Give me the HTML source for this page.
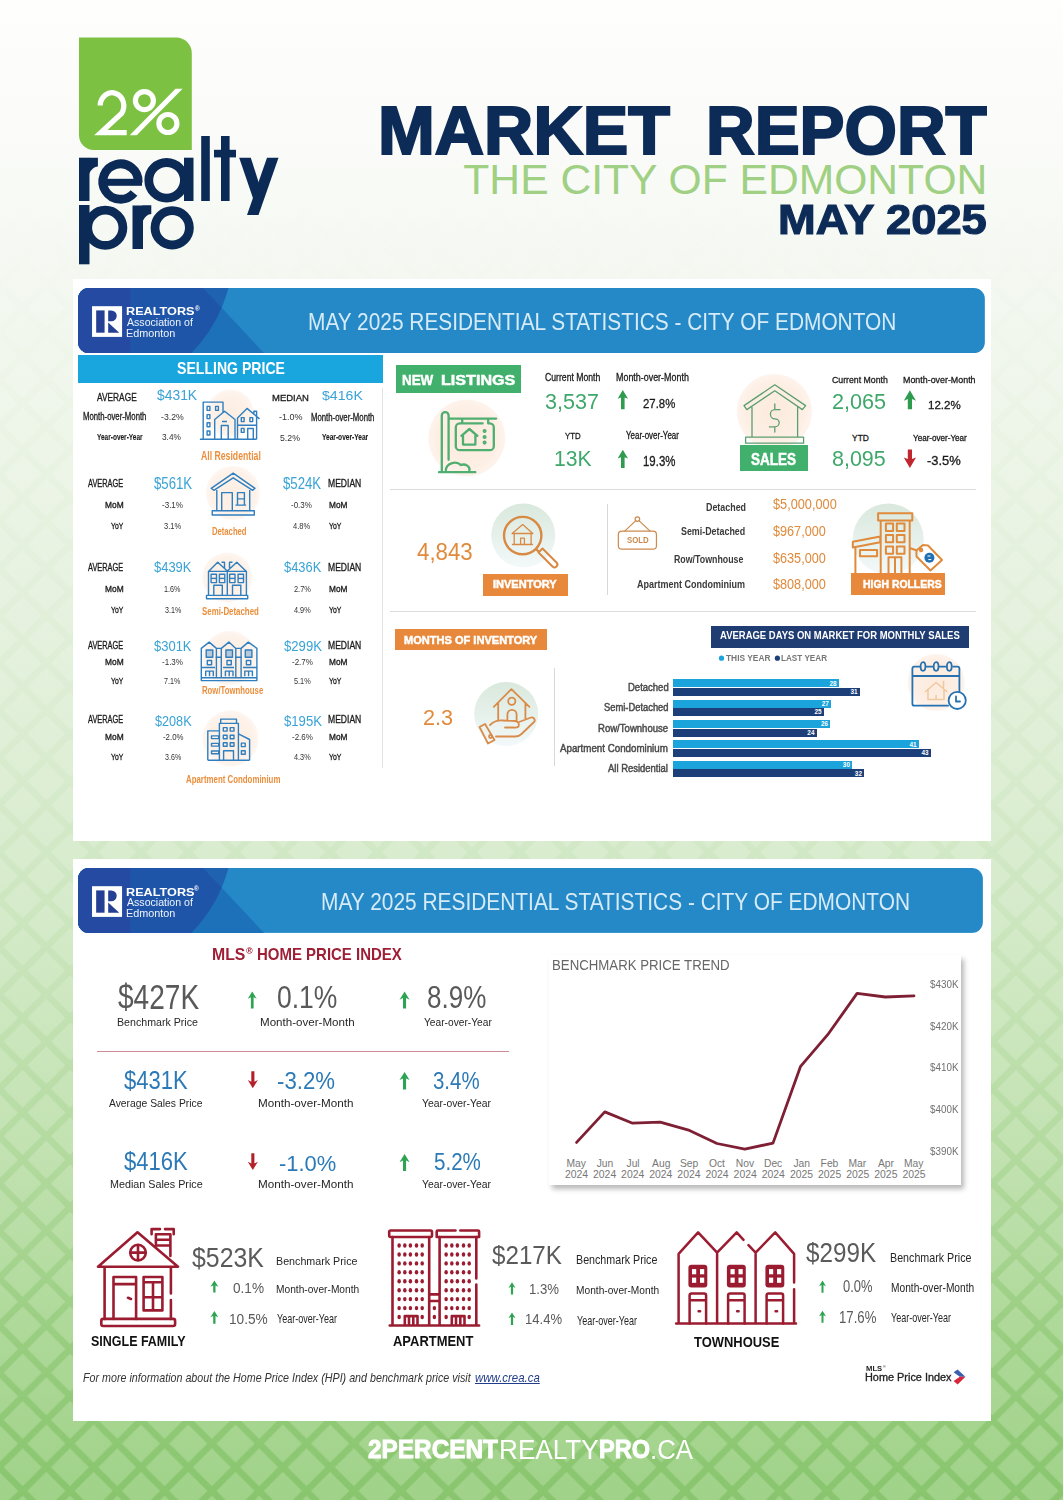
<!DOCTYPE html>
<html><head><meta charset="utf-8">
<style>
*{margin:0;padding:0;box-sizing:border-box}
html,body{width:1063px;height:1500px;overflow:hidden}
body{position:relative;font-family:"Liberation Sans",sans-serif;background:#f7faf4}
.a{position:absolute}
.t{position:absolute;white-space:nowrap;line-height:1;transform-origin:0 0}
.r{position:absolute}
</style></head><body>

<div class="a" style="left:0;top:0;width:1063px;height:1500px;background:linear-gradient(to bottom,#fefefd 0px,#fafbf8 150px,#f4f8f1 280px,#edf5e8 450px,#e2f0da 700px,#d6ebcb 900px,#c2e2b1 1150px,#aed999 1330px,#a0d289 1500px)"></div>
<svg class="a" style="left:0;top:0" width="1063" height="1500">
  <defs>
    <pattern id="lat" patternUnits="userSpaceOnUse" width="47.3" height="47.3" x="1016" y="1349">
      <path d="M-6,-6 L53.3,53.3 M53.3,-6 L-6,53.3 M-6,41.3 L6,53.3 M41.3,-6 L53.3,6 M41.3,53.3 L53.3,41.3 M-6,6 L6,-6" stroke="#80c063" stroke-width="6.5" fill="none"/>
    </pattern>
    <linearGradient id="lg" x1="0" y1="0" x2="0" y2="1500" gradientUnits="userSpaceOnUse">
      <stop offset="0" stop-color="#fff" stop-opacity="0"/>
      <stop offset="0.12" stop-color="#fff" stop-opacity="0"/><stop offset="0.22" stop-color="#fff" stop-opacity="0.02"/>
      <stop offset="0.4667" stop-color="#fff" stop-opacity="0.05"/>
      <stop offset="0.6667" stop-color="#fff" stop-opacity="0.12"/>
      <stop offset="0.8333" stop-color="#fff" stop-opacity="0.3"/>
      <stop offset="1" stop-color="#fff" stop-opacity="0.72"/>
    </linearGradient>
    <mask id="m"><rect width="1063" height="1500" fill="url(#lg)"/></mask>
  </defs>
  <rect width="1063" height="1500" fill="url(#lat)" mask="url(#m)"/>
</svg>
<svg class="a" style="left:0;top:0" width="300" height="280">
  <path d="M79,37.6 H176 A15.6,15.6 0 0 1 191.8,53.2 V150 H94 A14.8,14.8 0 0 1 79,135.2 Z" fill="#7cc142"/>
  <g fill="none" stroke="#fff" stroke-width="5.2">
    <path d="M100.2,105.5 A11.8,13 0 1 1 121.5,113.5 L100.8,132.6 H126.7"/>
    <circle cx="144.4" cy="100.6" r="9"/>
    <circle cx="167.9" cy="123.5" r="9"/>
  </g>
  <path d="M129.7,135.2 H136.7 L182.6,88.8 H175.5 Z" fill="#fff"/>
  <g fill="#0b2a55">
    <rect x="79" y="157.7" width="10.5" height="43.3"/>
    <path d="M89,157.7 H97.9 V166.5 Q92.5,166.5 89,174 Z"/>
    <rect x="99" y="178.8" width="43" height="7"/>
    <rect x="184" y="157.7" width="9.5" height="43.3"/>
    <rect x="201.2" y="136" width="8.6" height="65"/>
    <rect x="221" y="136" width="8.6" height="65"/>
    <rect x="214" y="149.8" width="22" height="7.6"/>
    <path d="M267,157.7 H278.5 L258.5,215 H247 Z"/>
    <path d="M239.2,157.7 H250.8 L263,196 L257,210 Z"/>
    <rect x="79" y="205" width="10.5" height="59.3"/>
    <rect x="132.5" y="205.5" width="10.5" height="43.5"/>
    <path d="M142.5,205.3 H151.3 V214 Q146,214 142.5,221.5 Z"/>
  </g>
  <g fill="none" stroke="#0b2a55" stroke-width="8.8">
    <path d="M138.2,182.3 A17.7,17.7 0 1 0 134,193"/>
    <circle cx="166.6" cy="180.3" r="17.8"/>
    <circle cx="105.3" cy="227.8" r="17.6"/>
    <circle cx="172.2" cy="227.8" r="17.2"/>
  </g>
</svg>
<div class="t" style="left:378.14px;top:96.75px;font-size:68.70px;color:#0d2b57;font-weight:bold;transform:scaleX(0.9933);-webkit-text-stroke:2.20px #0d2b57">MARKET</div><div class="t" style="left:706.31px;top:96.75px;font-size:68.70px;color:#0d2b57;font-weight:bold;transform:scaleX(0.9806);-webkit-text-stroke:2.20px #0d2b57">REPORT</div><div class="t" style="left:463.33px;top:158.33px;font-size:42.61px;color:#9fd083">THE CITY OF EDMONTON</div><div class="t" style="left:777.52px;top:199.07px;font-size:41.74px;color:#0d2b57;font-weight:bold;transform:scaleX(1.0837);-webkit-text-stroke:1.20px #0d2b57">MAY 2025</div>
<div class="a" style="left:72.5px;top:279px;width:918.5px;height:561.5px;background:#fff"></div>
<svg class="a" style="left:78.0px;top:287.6px" width="907.0" height="65.2" viewBox="0 0 907.0 65.2"><defs><clipPath id="bc1"><rect x="0" y="0" width="907.0" height="65.2" rx="11" ry="11"/></clipPath><clipPath id="cc1"><circle cx="9.3" cy="-37.6" r="146"/></clipPath></defs><g clip-path="url(#bc1)"><rect width="907.0" height="65.2" fill="#2489c6"/><path d="M0,0 H125.0 L186.0,65.2 H0 Z" fill="#1d71b9"/><g clip-path="url(#cc1)"><rect width="300" height="65.2" fill="#1f63b0"/><path d="M0,0 H125.0 L186.0,65.2 H0 Z" fill="#1f55a8"/></g><rect width="52.2" height="65.2" fill="#244aa1"/><rect x="13.95" y="18.20" width="30.05" height="30.7" fill="#fff"/><rect x="18.10" y="22.40" width="8.4" height="22.3" fill="#243f93"/><path d="M30.10,22.40 H33.20 A5.45,5.45 0 0 1 33.20,33.30 H30.10 Z" fill="#243f93"/><path d="M30.10,34.40 V44.70 H41.20 Z" fill="#243f93"/></g></svg><div class="t" style="left:126.31px;top:305.06px;font-size:11.74px;color:#fff;font-weight:bold;transform:scaleX(1.0795)">REALTORS</div><div class="t" style="left:194.90px;top:304.75px;font-size:7.97px;color:#fff;font-weight:bold;transform:scaleX(0.8029)">®</div><div class="t" style="left:127.10px;top:317.59px;font-size:10.29px;color:#eef4fb;transform:scaleX(1.0297)">Association of</div><div class="t" style="left:126.25px;top:327.72px;font-size:10.72px;color:#eef4fb;transform:scaleX(1.0095)">Edmonton</div><div class="t" style="left:308.27px;top:310.38px;font-size:23.77px;color:#d6ebf7;transform:scaleX(0.8782)">MAY 2025 RESIDENTIAL STATISTICS - CITY OF EDMONTON</div>
<div class="a" style="left:78px;top:355px;width:304.5px;height:28.3px;background:#19a6df"></div>
<div class="t" style="left:176.78px;top:361.45px;font-size:15.65px;color:#fff;font-weight:bold;transform:scaleX(0.9007)">SELLING PRICE</div>
<div class="a" style="left:381.6px;top:388px;width:1.2px;height:380px;background:#e2e2e2"></div>
<svg class="a" style="left:0;top:0" width="400" height="800">
<defs><radialGradient id="pch"><stop offset="0" stop-color="#fdeee2"/><stop offset="0.75" stop-color="#fdf1e8"/><stop offset="1" stop-color="#fef6f1"/></radialGradient></defs>
<circle cx="230.3" cy="413.0" r="23.5" fill="url(#pch)"/>
<circle cx="233.0" cy="493.0" r="27.0" fill="url(#pch)"/>
<circle cx="227.3" cy="577.5" r="25.0" fill="url(#pch)"/>
<circle cx="229.6" cy="658.0" r="27.0" fill="url(#pch)"/>
<circle cx="230.5" cy="738.5" r="28.0" fill="url(#pch)"/>
<g fill="none" stroke="#2f7ebf" stroke-width="1.4" stroke-linejoin="round">
<path transform="translate(195,385)" d="M8.2,54.3 V17.1 H28 V27.5 M4.9,54.3 H61.6 M19.7,54.3 V34.5 L29.6,26.3 L40,34.5 V54.3 M26.3,54.3 V40.5 H33.2 V54.3 M27,36.5 H32 M42.5,54.3 V33 L52,23.4 L64.5,33.9 M61.6,54.3 V31.5 M42.5,40.2 H61.6 M52.7,54.3 V43.5 H58.3 V54.3 M58.9,30 V26.3 H61.6 V32"/>
<rect transform="translate(195,385)" x="12.1" y="21.4" width="2.8" height="4" />
<rect transform="translate(195,385)" x="20.6" y="21.4" width="2.8" height="4" />
<rect transform="translate(195,385)" x="12.1" y="29.6" width="2.8" height="4" />
<rect transform="translate(195,385)" x="12.1" y="37.8" width="2.8" height="4" />
<rect transform="translate(195,385)" x="12.1" y="46.0" width="2.8" height="4" />
<rect transform="translate(195,385)" x="46.3" y="32.6" width="2.8" height="4" />
<rect transform="translate(195,385)" x="54.9" y="32.6" width="2.8" height="4" />
<rect transform="translate(195,385)" x="46.3" y="43.4" width="2.8" height="4" />
<path transform="translate(200,462)" d="M11.2,26.3 L33.2,11.2 L55,26.3 L52.7,28.3 L33.2,15.8 L13.8,28.3 Z M16.8,28 V48.7 M49.7,28 V48.7 M21.7,48.7 V30.6 H32.3 V48.7 M37.5,43.1 V30.6 H44.4 V43.1 M35.5,43.1 H46.1 M37.5,36.9 H44.4"/>
<rect transform="translate(200,462)" x="12.2" y="48.7" width="42.1" height="4.3"/>
<path transform="translate(195,548)" d="M13.5,47.4 V23.4 L22.7,14.2 L32.3,23 L41.8,14.2 L51.4,23.4 V47.4 M13.5,23.4 H51.4 M32.3,23 V47.4 M26.5,14.2 H29.5 V20 M34.5,20 V14.2 H37.5 M18.8,47.4 V37.2 H27.3 V47.4 M37.5,47.4 V37.2 H45.8 V47.4"/>
<rect transform="translate(195,548)" x="16.1" y="26.3" width="5.4" height="8.3"/><path transform="translate(195,548)" d="M16.1,30.4 H21.5"/>
<rect transform="translate(195,548)" x="24.4" y="26.3" width="5.4" height="8.3"/><path transform="translate(195,548)" d="M24.4,30.4 H29.8"/>
<rect transform="translate(195,548)" x="34.6" y="26.3" width="5.4" height="8.3"/><path transform="translate(195,548)" d="M34.6,30.4 H40.0"/>
<rect transform="translate(195,548)" x="43.1" y="26.3" width="5.4" height="8.3"/><path transform="translate(195,548)" d="M43.1,30.4 H48.5"/>
<rect transform="translate(195,548)" x="11.5" y="47.4" width="41.2" height="3.3"/>
<path transform="translate(195,625)" d="M6.3,55.6 V23.4 L14.2,17.1 L21.4,23.4 H26.3 L33.9,17.1 L40.8,23.4 H46.1 L53.3,17.1 L61.9,23.4 V55.6 Z M21.4,23.4 V52.7 M26.3,23.4 V52.7 M40.8,23.4 V52.7 M46.1,23.4 V52.7 M6.3,52.7 H61.9 M6.3,42.5 H20 M28,42.5 H39 M48,42.5 H61.9 M20.5,32.3 H27 M40,32.3 H47"/>
<rect transform="translate(195,625)" x="11.2" y="25" width="6.6" height="7.3" fill="#2f7ebf" fill-opacity="0.35"/>
<rect transform="translate(195,625)" x="12.3" y="35.5" width="4.3" height="4.3"/>
<path transform="translate(195,625)" d="M10.7,51.3 V46.1 H18.3 V51.3 M14.5,46.1 V51.3"/>
<rect transform="translate(195,625)" x="30.9" y="25" width="6.6" height="7.3" fill="#2f7ebf" fill-opacity="0.35"/>
<rect transform="translate(195,625)" x="32.0" y="35.5" width="4.3" height="4.3"/>
<path transform="translate(195,625)" d="M30.4,51.3 V46.1 H38.0 V51.3 M34.2,46.1 V51.3"/>
<rect transform="translate(195,625)" x="50.3" y="25" width="6.6" height="7.3" fill="#2f7ebf" fill-opacity="0.35"/>
<rect transform="translate(195,625)" x="51.4" y="35.5" width="4.3" height="4.3"/>
<path transform="translate(195,625)" d="M49.8,51.3 V46.1 H57.4 V51.3 M53.6,46.1 V51.3"/>
<path transform="translate(195,700)" d="M12.8,60.2 V30.9 H24.4 M24.4,60.2 V23.4 H43.4 V60.2 M25.7,23.4 V19.1 H41.5 V23.4 M43.4,33.9 L54.6,39.5 V60.2 M12.8,60.2 H54.6 M28.6,60.2 V50.7 H38.5 V60.2"/>
<rect transform="translate(195,700)" x="16.5" y="35.9" width="7.2" height="2.7"/>
<rect transform="translate(195,700)" x="16.5" y="43.4" width="7.2" height="2.7"/>
<rect transform="translate(195,700)" x="16.5" y="51.0" width="7.2" height="2.7"/>
<rect transform="translate(195,700)" x="28.3" y="27.6" width="3.8" height="3.5"/>
<rect transform="translate(195,700)" x="35.2" y="27.6" width="3.8" height="3.5"/>
<rect transform="translate(195,700)" x="28.3" y="35.2" width="3.8" height="3.5"/>
<rect transform="translate(195,700)" x="35.2" y="35.2" width="3.8" height="3.5"/>
<rect transform="translate(195,700)" x="28.3" y="42.8" width="3.8" height="3.5"/>
<rect transform="translate(195,700)" x="35.2" y="42.8" width="3.8" height="3.5"/>
<rect transform="translate(195,700)" x="46.4" y="43.1" width="3.8" height="3.5"/>
<rect transform="translate(195,700)" x="46.4" y="50.7" width="3.8" height="3.5"/>
</g></svg>
<div class="t" style="left:97.48px;top:392.82px;font-size:10.43px;color:#1a1a1a;transform:scaleX(0.8002);-webkit-text-stroke:0.30px #1a1a1a">AVERAGE</div>
<div class="t" style="left:157.00px;top:388.28px;font-size:14.20px;color:#39a3d6;transform:scaleX(0.9776)">$431K</div>
<div class="t" style="left:83.28px;top:412.46px;font-size:10.14px;color:#1a1a1a;transform:scaleX(0.7667);-webkit-text-stroke:0.30px #1a1a1a">Month-over-Month</div>
<div class="t" style="left:160.53px;top:412.46px;font-size:9.86px;color:#333;transform:scaleX(0.8830)">-3.2%</div>
<div class="t" style="left:97.16px;top:432.62px;font-size:9.13px;color:#1a1a1a;font-weight:bold;transform:scaleX(0.7129);-webkit-text-stroke:0.10px #1a1a1a">Year-over-Year</div>
<div class="t" style="left:161.74px;top:432.06px;font-size:9.86px;color:#333;transform:scaleX(0.8417)">3.4%</div>
<div class="t" style="left:272.01px;top:393.31px;font-size:9.86px;color:#1a1a1a;transform:scaleX(0.9631);-webkit-text-stroke:0.30px #1a1a1a">MEDIAN</div>
<div class="t" style="left:321.70px;top:389.09px;font-size:13.48px;color:#39a3d6;transform:scaleX(1.0482)">$416K</div>
<div class="t" style="left:278.72px;top:412.46px;font-size:9.86px;color:#333;transform:scaleX(0.9148)">-1.0%</div>
<div class="t" style="left:311.28px;top:413.19px;font-size:10.00px;color:#1a1a1a;transform:scaleX(0.7765);-webkit-text-stroke:0.30px #1a1a1a">Month-over-Month</div>
<div class="t" style="left:280.03px;top:432.96px;font-size:9.86px;color:#333;transform:scaleX(0.8874)">5.2%</div>
<div class="t" style="left:321.86px;top:432.60px;font-size:9.28px;color:#1a1a1a;font-weight:bold;transform:scaleX(0.7110);-webkit-text-stroke:0.10px #1a1a1a">Year-over-Year</div>
<div class="t" style="left:201.26px;top:450.64px;font-size:11.88px;color:#ec8f3d;font-weight:bold;transform:scaleX(0.7309)">All Residential</div>
<div class="t" style="left:87.99px;top:478.76px;font-size:10.14px;color:#1a1a1a;transform:scaleX(0.7311);-webkit-text-stroke:0.30px #1a1a1a">AVERAGE</div>
<div class="t" style="left:328.20px;top:478.76px;font-size:10.14px;color:#1a1a1a;transform:scaleX(0.8458);-webkit-text-stroke:0.30px #1a1a1a">MEDIAN</div>
<div class="t" style="left:153.70px;top:475.53px;font-size:15.80px;color:#39a3d6;transform:scaleX(0.8350)">$561K</div>
<div class="t" style="left:282.60px;top:475.53px;font-size:15.80px;color:#39a3d6;transform:scaleX(0.8350)">$524K</div>
<div class="t" style="left:104.80px;top:501.11px;font-size:8.55px;color:#1a1a1a;transform:scaleX(0.9799);-webkit-text-stroke:0.30px #1a1a1a">MoM</div>
<div class="t" style="left:328.81px;top:501.11px;font-size:8.55px;color:#1a1a1a;transform:scaleX(0.9686);-webkit-text-stroke:0.30px #1a1a1a">MoM</div>
<div class="t" style="left:110.68px;top:522.07px;font-size:8.84px;color:#1a1a1a;transform:scaleX(0.7724);-webkit-text-stroke:0.30px #1a1a1a">YoY</div>
<div class="t" style="left:329.38px;top:522.07px;font-size:8.84px;color:#1a1a1a;transform:scaleX(0.7788);-webkit-text-stroke:0.30px #1a1a1a">YoY</div>
<div class="t" style="left:162.25px;top:501.37px;font-size:9.13px;color:#333;transform:scaleX(0.8800)">-3.1%</div>
<div class="t" style="left:290.55px;top:501.37px;font-size:9.13px;color:#333;transform:scaleX(0.8758)">-0.3%</div>
<div class="t" style="left:163.77px;top:521.85px;font-size:9.28px;color:#333;transform:scaleX(0.8068)">3.1%</div>
<div class="t" style="left:292.88px;top:521.85px;font-size:9.28px;color:#333;transform:scaleX(0.8108)">4.8%</div>
<div class="t" style="left:211.52px;top:527.01px;font-size:10.14px;color:#ec8f3d;font-weight:bold;transform:scaleX(0.7570)">Detached</div>
<div class="t" style="left:87.99px;top:562.76px;font-size:10.14px;color:#1a1a1a;transform:scaleX(0.7311);-webkit-text-stroke:0.30px #1a1a1a">AVERAGE</div>
<div class="t" style="left:328.20px;top:562.76px;font-size:10.14px;color:#1a1a1a;transform:scaleX(0.8458);-webkit-text-stroke:0.30px #1a1a1a">MEDIAN</div>
<div class="t" style="left:153.70px;top:559.42px;font-size:15.22px;color:#39a3d6;transform:scaleX(0.8508)">$439K</div>
<div class="t" style="left:283.50px;top:559.42px;font-size:15.22px;color:#39a3d6;transform:scaleX(0.8463)">$436K</div>
<div class="t" style="left:104.80px;top:584.81px;font-size:8.55px;color:#1a1a1a;transform:scaleX(0.9799);-webkit-text-stroke:0.30px #1a1a1a">MoM</div>
<div class="t" style="left:328.81px;top:584.81px;font-size:8.55px;color:#1a1a1a;transform:scaleX(0.9686);-webkit-text-stroke:0.30px #1a1a1a">MoM</div>
<div class="t" style="left:110.68px;top:605.77px;font-size:8.84px;color:#1a1a1a;transform:scaleX(0.7724);-webkit-text-stroke:0.30px #1a1a1a">YoY</div>
<div class="t" style="left:329.38px;top:605.77px;font-size:8.84px;color:#1a1a1a;transform:scaleX(0.7788);-webkit-text-stroke:0.30px #1a1a1a">YoY</div>
<div class="t" style="left:164.35px;top:585.07px;font-size:9.13px;color:#333;transform:scaleX(0.7913)">1.6%</div>
<div class="t" style="left:293.95px;top:585.07px;font-size:9.13px;color:#333;transform:scaleX(0.8105)">2.7%</div>
<div class="t" style="left:164.58px;top:605.55px;font-size:9.28px;color:#333;transform:scaleX(0.7679)">3.1%</div>
<div class="t" style="left:294.19px;top:605.55px;font-size:9.28px;color:#333;transform:scaleX(0.7867)">4.9%</div>
<div class="t" style="left:202.28px;top:605.51px;font-size:11.45px;color:#ec8f3d;font-weight:bold;transform:scaleX(0.6882)">Semi-Detached</div>
<div class="t" style="left:87.99px;top:641.06px;font-size:10.14px;color:#1a1a1a;transform:scaleX(0.7311);-webkit-text-stroke:0.30px #1a1a1a">AVERAGE</div>
<div class="t" style="left:328.20px;top:641.06px;font-size:10.14px;color:#1a1a1a;transform:scaleX(0.8458);-webkit-text-stroke:0.30px #1a1a1a">MEDIAN</div>
<div class="t" style="left:154.30px;top:638.69px;font-size:14.78px;color:#39a3d6;transform:scaleX(0.8782)">$301K</div>
<div class="t" style="left:283.50px;top:638.69px;font-size:14.78px;color:#39a3d6;transform:scaleX(0.8900)">$299K</div>
<div class="t" style="left:104.80px;top:658.21px;font-size:8.55px;color:#1a1a1a;transform:scaleX(0.9799);-webkit-text-stroke:0.30px #1a1a1a">MoM</div>
<div class="t" style="left:328.81px;top:658.21px;font-size:8.55px;color:#1a1a1a;transform:scaleX(0.9686);-webkit-text-stroke:0.30px #1a1a1a">MoM</div>
<div class="t" style="left:110.68px;top:676.77px;font-size:8.84px;color:#1a1a1a;transform:scaleX(0.7724);-webkit-text-stroke:0.30px #1a1a1a">YoY</div>
<div class="t" style="left:329.38px;top:676.77px;font-size:8.84px;color:#1a1a1a;transform:scaleX(0.7788);-webkit-text-stroke:0.30px #1a1a1a">YoY</div>
<div class="t" style="left:162.25px;top:658.47px;font-size:9.13px;color:#333;transform:scaleX(0.8800)">-1.3%</div>
<div class="t" style="left:292.05px;top:658.47px;font-size:9.13px;color:#333;transform:scaleX(0.8758)">-2.7%</div>
<div class="t" style="left:164.46px;top:676.55px;font-size:9.28px;color:#333;transform:scaleX(0.7734)">7.1%</div>
<div class="t" style="left:294.07px;top:676.55px;font-size:9.28px;color:#333;transform:scaleX(0.7922)">5.1%</div>
<div class="t" style="left:201.91px;top:685.08px;font-size:11.01px;color:#ec8f3d;font-weight:bold;transform:scaleX(0.7070)">Row/Townhouse</div>
<div class="t" style="left:87.99px;top:715.46px;font-size:10.14px;color:#1a1a1a;transform:scaleX(0.7311);-webkit-text-stroke:0.30px #1a1a1a">AVERAGE</div>
<div class="t" style="left:328.20px;top:715.46px;font-size:10.14px;color:#1a1a1a;transform:scaleX(0.8458);-webkit-text-stroke:0.30px #1a1a1a">MEDIAN</div>
<div class="t" style="left:155.20px;top:713.69px;font-size:14.78px;color:#39a3d6;transform:scaleX(0.8571)">$208K</div>
<div class="t" style="left:283.50px;top:713.69px;font-size:14.78px;color:#39a3d6;transform:scaleX(0.8900)">$195K</div>
<div class="t" style="left:104.80px;top:733.21px;font-size:8.55px;color:#1a1a1a;transform:scaleX(0.9799);-webkit-text-stroke:0.30px #1a1a1a">MoM</div>
<div class="t" style="left:328.81px;top:733.21px;font-size:8.55px;color:#1a1a1a;transform:scaleX(0.9686);-webkit-text-stroke:0.30px #1a1a1a">MoM</div>
<div class="t" style="left:110.68px;top:752.97px;font-size:8.84px;color:#1a1a1a;transform:scaleX(0.7724);-webkit-text-stroke:0.30px #1a1a1a">YoY</div>
<div class="t" style="left:329.38px;top:752.97px;font-size:8.84px;color:#1a1a1a;transform:scaleX(0.7788);-webkit-text-stroke:0.30px #1a1a1a">YoY</div>
<div class="t" style="left:162.76px;top:733.47px;font-size:9.13px;color:#333;transform:scaleX(0.8586)">-2.0%</div>
<div class="t" style="left:292.05px;top:733.47px;font-size:9.13px;color:#333;transform:scaleX(0.8758)">-2.6%</div>
<div class="t" style="left:164.58px;top:752.75px;font-size:9.28px;color:#333;transform:scaleX(0.7679)">3.6%</div>
<div class="t" style="left:294.19px;top:752.75px;font-size:9.28px;color:#333;transform:scaleX(0.7867)">4.3%</div>
<div class="t" style="left:185.68px;top:774.19px;font-size:11.59px;color:#ec8f3d;font-weight:bold;transform:scaleX(0.6793)">Apartment Condominium</div>
<svg class="a" style="left:0;top:0" width="1063" height="800">
<defs><radialGradient id="pch2"><stop offset="0" stop-color="#fcebdd"/><stop offset="0.8" stop-color="#fdefe5"/><stop offset="1" stop-color="#fef4ed"/></radialGradient>
<linearGradient id="mint" x1="0" y1="0" x2="0" y2="1"><stop offset="0" stop-color="#d9e8dc"/><stop offset="1" stop-color="#f3f9fa"/></linearGradient></defs>
<circle cx="466.8" cy="438" r="38.5" fill="url(#pch2)"/>
<circle cx="774.4" cy="411.5" r="37.6" fill="url(#pch2)"/>
<circle cx="523.3" cy="535.5" r="32" fill="url(#mint)"/>
<circle cx="888.2" cy="539" r="35.5" fill="url(#mint)"/>
<circle cx="506.2" cy="714" r="32" fill="url(#mint)"/>
<circle cx="936.1" cy="682.4" r="28.5" fill="url(#pch2)"/>
<g transform="translate(425,395)" fill="none" stroke="#4fae70" stroke-width="2.3" stroke-linecap="round" stroke-linejoin="round"><path d="M16.8,76.8 V20.5 A3.4,3.4 0 0 1 23.6,20.5 V64.8 M23.6,23.6 H71.2 M37.2,23.6 V28.4 M63.2,23.6 V28.4 M57.6,28.4 H34.8 A4,4 0 0 0 30.8,32.4 V51.2 A4,4 0 0 0 34.8,55.2 H64.8 A4,4 0 0 0 68.8,51.2 V32.4 A4,4 0 0 0 64.8,28.4 H63.5 M14,77.2 H50.4 M20.8,75.5 A9,8 0 0 1 36,70 A6,5 0 0 1 44.4,75.5 M38,49.6 V40.5 M50.4,49.6 V40.5 M36.4,40.8 L44.4,34 L52.4,40.8 M38,49.6 H50.4"/><circle cx="59.6" cy="36" r="0.9"/><circle cx="59.6" cy="42" r="0.9"/><circle cx="59.6" cy="47.6" r="0.9"/></g>
<g transform="translate(732,368)" fill="none" stroke="#5d9e70" stroke-width="1.3" stroke-linecap="round" stroke-linejoin="round"><path d="M12,37.6 L42.8,16.8 L73.6,37.6 L70.4,41.6 L42.8,22.8 L14.8,41.6 Z M20,39.5 V68.8 M65.6,39.5 V68.8 M13.6,69.2 H71.6 V75.2 H13.6 Z M42.8,36 V41.6 M42.8,58.8 V64 M48,41.6 H42.8 A4.4,4.6 0 0 0 42.8,50.8 A4.4,4 0 0 1 42.8,58.8 H37.4"/></g>
<g transform="translate(485,495)" fill="none" stroke="#d88a45" stroke-width="2.4" stroke-linecap="round" stroke-linejoin="round"><circle cx="37.7" cy="40.6" r="18.7"/><path d="M51,54 L53.5,56.5"/></g>
<g transform="translate(485,495)" fill="none" stroke="#d88a45" stroke-width="2" stroke-linecap="round" stroke-linejoin="round"><path d="M53.5,57.5 L57.5,53.5 L71.5,67.5 A2.8,2.8 0 0 1 67.5,71.5 Z"/></g>
<g transform="translate(485,495)" fill="none" stroke="#d88a45" stroke-width="1.3" stroke-linecap="round" stroke-linejoin="round"><path d="M27.1,38.5 L37.7,29.6 L47.8,38.5 Z M29.2,38.5 V49.5 M46.1,38.5 V49.5 M27.5,49.5 H47.5 M35.6,49.5 V43.2 H39.4 V49.5"/></g>
<g transform="translate(612,505)" fill="none" stroke="#cd8a4e" stroke-width="1.2" stroke-linecap="round" stroke-linejoin="round"><rect x="6.35" y="26.1" width="38.1" height="18.1" rx="3.5"/><path d="M12.7,26.1 L23.8,15.6 M38.1,26.1 L27,15.6"/><circle cx="25.4" cy="14.1" r="2.3"/></g>
<g transform="translate(845,490)" fill="none" stroke="#e08a3c" stroke-width="2" stroke-linecap="round" stroke-linejoin="round"><path d="M35.7,82.8 V30.5 H64.7 V82.8 M33.1,23.3 H67.3 V30.5 H33.1 Z M43.5,82.8 V67.3 H56.4 V82.8 M50,67.3 V82.8 M7.8,51.8 L35.2,46.6 V52.3 L7.8,57.5 Z M10.4,57 V82.8 M15,60 H32.1 V66.3 H15 Z M64.7,58 L72,60.5 M71.4,60.5 L78,55 L83,55.5 L97,70 L85.5,80.5 L71.5,66.5 Z"/><rect x="40.9" y="33.6" width="7.2" height="7.3"/><rect x="51.8" y="33.6" width="7.7" height="7.3"/><rect x="40.9" y="45" width="7.2" height="7.3"/><rect x="51.8" y="45" width="7.7" height="7.3"/><rect x="40.9" y="56.4" width="7.2" height="7.3"/><rect x="51.8" y="56.4" width="7.7" height="7.3"/><circle cx="76.1" cy="60" r="1.2"/></g>
<circle cx="929.4" cy="557.8" r="5" fill="#1f6fb2"/><path d="M927.5,556 h3 M931.3,559.6 h-3" stroke="#fff" stroke-width="1"/>
<g transform="translate(465,670)" fill="none" stroke="#d98b4a" stroke-width="1.8" stroke-linecap="round" stroke-linejoin="round"><path d="M28.8,36.8 L46.4,19.2 L64.4,36.8 M33.2,33.5 V49.6 M60.4,33.5 V49.6 M42.4,50 V44.5 A4.6,4.6 0 0 1 51.6,44.5 V50.5 M25,55 Q30,50 38,50.5 L50,51 Q55,52 53.5,56.5 Q52,58 48,57.5 H40 M54,52 L66,47.5 A3,3 0 0 1 69.5,51.5 L56.5,64 Q54,66.5 50,66.5 H31 M14.5,57 L20,54 L29.5,70 L23,73.5 Z"/><circle cx="46.8" cy="31.2" r="3.6"/><circle cx="25.5" cy="66.5" r="1.5"/></g>
<g transform="translate(900,650)" fill="none" stroke="#f0c9a3" stroke-width="1.6" stroke-linecap="round" stroke-linejoin="round"><path d="M25.5,41.5 L36.1,32.5 L46.7,41.5 M28,39.5 V49.5 H44 V39.5 M36.1,49.5 V45.5 M43.5,37.5 V31.5"/></g>
<g transform="translate(900,650)" fill="none" stroke="#2672b0" stroke-width="1.8" stroke-linecap="round" stroke-linejoin="round"><path d="M19.5,16.6 H14.4 A2,2 0 0 0 12.4,18.6 V53.7 A2,2 0 0 0 14.4,55.7 H48 M59.4,42 V18.6 A2,2 0 0 0 57.4,16.6 H53 M26.5,16.6 H32.5 M39.6,16.6 H45.8 M12.4,26 H59.4"/><ellipse cx="23" cy="16.5" rx="2.4" ry="4.3"/><ellipse cx="36.1" cy="16.5" rx="2.4" ry="4.3"/><ellipse cx="49.3" cy="16.5" rx="2.4" ry="4.3"/><circle cx="57.2" cy="50.4" r="8.6" fill="#fff"/><path d="M56,46.5 V51.5 H60"/></g>
</svg>
<div class="a" style="left:389.5px;top:489px;width:586px;height:1.3px;background:#dcdcdc"></div>
<div class="a" style="left:389.5px;top:611px;width:586px;height:1.3px;background:#dcdcdc"></div>
<div class="a" style="left:607.3px;top:504px;width:1.2px;height:91px;background:#d8d8d8"></div>
<div class="a" style="left:554px;top:668px;width:1.2px;height:98px;background:#d8d8d8"></div>
<div class="a" style="left:396.3px;top:365.4px;width:125px;height:27.5px;background:#41b06d"></div>
<div class="t" style="left:402.34px;top:372.19px;font-size:15.07px;color:#fff;font-weight:bold;transform:scaleX(0.8876);-webkit-text-stroke:0.50px #fff">NEW</div>
<div class="t" style="left:441.23px;top:372.19px;font-size:15.07px;color:#fff;font-weight:bold;transform:scaleX(1.0695);-webkit-text-stroke:0.50px #fff">LISTINGS</div>
<div class="a" style="left:739.5px;top:444.8px;width:68.3px;height:26.5px;background:#41b06d"></div>
<div class="t" style="left:750.98px;top:450.89px;font-size:16.38px;color:#fff;font-weight:bold;transform:scaleX(0.8273);-webkit-text-stroke:0.50px #fff">SALES</div>
<div class="a" style="left:482.8px;top:573.5px;width:85px;height:22px;background:#e8883a"></div>
<div class="t" style="left:493.07px;top:578.88px;font-size:11.30px;color:#fff;font-weight:bold;transform:scaleX(0.9752);-webkit-text-stroke:0.50px #fff">INVENTORY</div>
<div class="a" style="left:851.2px;top:572.8px;width:93.7px;height:22.2px;background:#e8883a"></div>
<div class="t" style="left:862.70px;top:578.59px;font-size:10.58px;color:#fff;font-weight:bold;transform:scaleX(0.9836);-webkit-text-stroke:0.50px #fff">HIGH ROLLERS</div>
<div class="a" style="left:394.8px;top:629.3px;width:152.6px;height:20.7px;background:#e8883a"></div>
<div class="t" style="left:404.15px;top:634.55px;font-size:10.87px;color:#fff;font-weight:bold;transform:scaleX(1.0173);-webkit-text-stroke:0.50px #fff">MONTHS OF INVENTORY</div>
<div class="a" style="left:710.6px;top:625.9px;width:258.7px;height:22.6px;background:#1f3d73"></div>
<div class="t" style="left:720.15px;top:630.23px;font-size:11.30px;color:#fff;font-weight:bold;transform:scaleX(0.8395)">AVERAGE DAYS ON MARKET FOR MONTHLY SALES</div>
<div class="t" style="left:626.68px;top:535.75px;font-size:9.28px;color:#c98a4f;font-weight:bold;transform:scaleX(0.8459)">SOLD</div>
<svg class="a" style="left:0;top:0;overflow:visible" width="1" height="1"><path d="M622.8,390.0 L628.0,398.8 L624.6,397.5 L624.6,409.2 L621.0,409.2 L621.0,397.5 L617.6,398.8 Z" fill="#2e9b4f"/></svg>
<svg class="a" style="left:0;top:0;overflow:visible" width="1" height="1"><path d="M622.8,449.8 L628.0,458.6 L624.6,457.3 L624.6,468.0 L621.0,468.0 L621.0,457.3 L617.6,458.6 Z" fill="#2e9b4f"/></svg>
<svg class="a" style="left:0;top:0;overflow:visible" width="1" height="1"><path d="M909.9,390.3 L916.0,400.7 L912.0,399.1 L912.0,409.2 L907.8,409.2 L907.8,399.1 L903.8,400.7 Z" fill="#2e9b4f"/></svg>
<svg class="a" style="left:0;top:0;overflow:visible" width="1" height="1"><path d="M909.9,467.9 L916.0,457.5 L912.0,459.1 L912.0,449.6 L907.8,449.6 L907.8,459.1 L903.8,457.5 Z" fill="#c0262d"/></svg>
<div class="t" style="left:545.37px;top:372.84px;font-size:10.29px;color:#1a1a1a;transform:scaleX(0.8422);-webkit-text-stroke:0.30px #1a1a1a">Current Month</div>
<div class="t" style="left:616.17px;top:372.84px;font-size:10.29px;color:#1a1a1a;transform:scaleX(0.8671);-webkit-text-stroke:0.30px #1a1a1a">Month-over-Month</div>
<div class="t" style="left:545.23px;top:389.94px;font-size:22.75px;color:#3ea86a;transform:scaleX(0.9474)">3,537</div>
<div class="t" style="left:642.74px;top:396.99px;font-size:13.19px;color:#1a1a1a;transform:scaleX(0.8630);-webkit-text-stroke:0.30px #1a1a1a">27.8%</div>
<div class="t" style="left:565.45px;top:431.28px;font-size:9.42px;color:#1a1a1a;transform:scaleX(0.8330);-webkit-text-stroke:0.30px #1a1a1a">YTD</div>
<div class="t" style="left:626.26px;top:431.19px;font-size:10.00px;color:#1a1a1a;transform:scaleX(0.7947);-webkit-text-stroke:0.30px #1a1a1a">Year-over-Year</div>
<div class="t" style="left:554.08px;top:446.84px;font-size:22.75px;color:#3ea86a;transform:scaleX(0.9300)">13K</div>
<div class="t" style="left:642.56px;top:455.20px;font-size:13.77px;color:#1a1a1a;transform:scaleX(0.8314);-webkit-text-stroke:0.30px #1a1a1a">19.3%</div>
<div class="t" style="left:832.15px;top:374.83px;font-size:9.71px;color:#1a1a1a;transform:scaleX(0.9007);-webkit-text-stroke:0.30px #1a1a1a">Current Month</div>
<div class="t" style="left:902.97px;top:374.83px;font-size:9.71px;color:#1a1a1a;transform:scaleX(0.9151);-webkit-text-stroke:0.30px #1a1a1a">Month-over-Month</div>
<div class="t" style="left:831.69px;top:390.55px;font-size:22.03px;color:#3ea86a;transform:scaleX(0.9812)">2,065</div>
<div class="t" style="left:927.73px;top:398.51px;font-size:11.74px;color:#1a1a1a;transform:scaleX(0.9813);-webkit-text-stroke:0.30px #1a1a1a">12.2%</div>
<div class="t" style="left:852.12px;top:434.23px;font-size:8.41px;color:#1a1a1a;-webkit-text-stroke:0.30px #1a1a1a">YTD</div>
<div class="t" style="left:912.74px;top:434.17px;font-size:8.84px;color:#1a1a1a;transform:scaleX(0.9159);-webkit-text-stroke:0.30px #1a1a1a">Year-over-Year</div>
<div class="t" style="left:832.03px;top:447.69px;font-size:21.16px;color:#3ea86a;transform:scaleX(1.0149)">8,095</div>
<div class="t" style="left:926.63px;top:456.29px;font-size:11.88px;color:#1a1a1a;transform:scaleX(1.0884);-webkit-text-stroke:0.30px #1a1a1a">-3.5%</div>
<div class="t" style="left:416.65px;top:541.40px;font-size:23.62px;color:#e08a3c;transform:scaleX(0.9431)">4,843</div>
<div class="t" style="left:423.39px;top:705.74px;font-size:22.75px;color:#e08a3c;transform:scaleX(0.9514)">2.3</div>
<div class="t" style="left:705.54px;top:501.62px;font-size:10.72px;color:#3a3a3a;font-weight:bold;transform:scaleX(0.8291)">Detached</div>
<div class="t" style="left:681.36px;top:525.85px;font-size:11.16px;color:#3a3a3a;font-weight:bold;transform:scaleX(0.7964)">Semi-Detached</div>
<div class="t" style="left:673.65px;top:553.63px;font-size:11.30px;color:#3a3a3a;font-weight:bold;transform:scaleX(0.7798)">Row/Townhouse</div>
<div class="t" style="left:637.36px;top:578.63px;font-size:11.30px;color:#3a3a3a;font-weight:bold;transform:scaleX(0.7976)">Apartment Condominium</div>
<div class="t" style="left:773.20px;top:496.78px;font-size:14.20px;color:#e08a3c;transform:scaleX(0.8978)">$5,000,000</div>
<div class="t" style="left:773.20px;top:523.73px;font-size:14.49px;color:#e08a3c;transform:scaleX(0.8737)">$967,000</div>
<div class="t" style="left:773.20px;top:550.75px;font-size:14.35px;color:#e08a3c;transform:scaleX(0.8826)">$635,000</div>
<div class="t" style="left:773.20px;top:577.28px;font-size:14.20px;color:#e08a3c;transform:scaleX(0.8916)">$808,000</div>
<svg class="a" style="left:0;top:0;overflow:visible" width="1" height="1"><circle cx="721.5" cy="658.2" r="2.6" fill="#1ba3dc"/><circle cx="777.4" cy="658.2" r="2.6" fill="#1c3f7a"/></svg>
<div class="t" style="left:725.50px;top:653.26px;font-size:9.86px;color:#777;font-weight:bold;transform:scaleX(0.8496)">THIS YEAR</div>
<div class="t" style="left:780.89px;top:653.26px;font-size:9.86px;color:#777;font-weight:bold;transform:scaleX(0.8284)">LAST YEAR</div>
<div class="a" style="left:672.8px;top:679.3px;width:166.1px;height:7.9px;background:#1ba3dc"></div>
<div class="a" style="left:672.8px;top:687.6px;width:187.2px;height:8.1px;background:#1c3f7a"></div>
<div class="t" style="left:829.47px;top:680.50px;font-size:6.38px;color:#fff;font-weight:bold">28</div>
<div class="t" style="left:850.57px;top:688.90px;font-size:6.38px;color:#fff;font-weight:bold">31</div>
<div class="t" style="left:627.65px;top:682.63px;font-size:10.22px;color:#4a4a4a;transform:scaleX(0.9300);-webkit-text-stroke:0.45px #4a4a4a">Detached</div>
<div class="a" style="left:672.8px;top:699.8px;width:158.2px;height:7.9px;background:#1ba3dc"></div>
<div class="a" style="left:672.8px;top:708.1px;width:151.2px;height:8.1px;background:#1c3f7a"></div>
<div class="t" style="left:821.67px;top:701.00px;font-size:6.38px;color:#fff;font-weight:bold">27</div>
<div class="t" style="left:814.57px;top:709.40px;font-size:6.38px;color:#fff;font-weight:bold">25</div>
<div class="t" style="left:603.80px;top:703.13px;font-size:10.22px;color:#4a4a4a;transform:scaleX(0.9162);-webkit-text-stroke:0.45px #4a4a4a">Semi-Detached</div>
<div class="a" style="left:672.8px;top:720.2px;width:157.7px;height:7.9px;background:#1ba3dc"></div>
<div class="a" style="left:672.8px;top:728.5px;width:144.2px;height:8.1px;background:#1c3f7a"></div>
<div class="t" style="left:821.07px;top:721.40px;font-size:6.38px;color:#fff;font-weight:bold">26</div>
<div class="t" style="left:807.37px;top:729.80px;font-size:6.38px;color:#fff;font-weight:bold">24</div>
<div class="t" style="left:598.04px;top:723.53px;font-size:10.22px;color:#4a4a4a;transform:scaleX(0.9355);-webkit-text-stroke:0.45px #4a4a4a">Row/Townhouse</div>
<div class="a" style="left:672.8px;top:740.4px;width:246.2px;height:7.9px;background:#1ba3dc"></div>
<div class="a" style="left:672.8px;top:748.7px;width:258.2px;height:8.1px;background:#1c3f7a"></div>
<div class="t" style="left:909.57px;top:741.60px;font-size:6.38px;color:#fff;font-weight:bold">41</div>
<div class="t" style="left:921.57px;top:750.00px;font-size:6.38px;color:#fff;font-weight:bold">43</div>
<div class="t" style="left:560.49px;top:743.73px;font-size:10.22px;color:#4a4a4a;transform:scaleX(0.9539);-webkit-text-stroke:0.45px #4a4a4a">Apartment Condominium</div>
<div class="a" style="left:672.8px;top:761.0px;width:179.4px;height:7.9px;background:#1ba3dc"></div>
<div class="a" style="left:672.8px;top:769.3px;width:191.5px;height:8.1px;background:#1c3f7a"></div>
<div class="t" style="left:842.87px;top:762.20px;font-size:6.38px;color:#fff;font-weight:bold">30</div>
<div class="t" style="left:854.87px;top:770.60px;font-size:6.38px;color:#fff;font-weight:bold">32</div>
<div class="t" style="left:608.49px;top:764.33px;font-size:10.22px;color:#4a4a4a;transform:scaleX(0.9256);-webkit-text-stroke:0.45px #4a4a4a">All Residential</div>
<div class="a" style="left:72.5px;top:858.5px;width:918.5px;height:562.2px;background:#fff"></div>
<svg class="a" style="left:77.5px;top:868.2px" width="905.0" height="64.9" viewBox="0 0 905.0 64.9"><defs><clipPath id="bc2"><rect x="0" y="0" width="905.0" height="64.9" rx="11" ry="11"/></clipPath><clipPath id="cc2"><circle cx="9.3" cy="-37.6" r="146"/></clipPath></defs><g clip-path="url(#bc2)"><rect width="905.0" height="64.9" fill="#2489c6"/><path d="M0,0 H125.0 L186.0,64.9 H0 Z" fill="#1d71b9"/><g clip-path="url(#cc2)"><rect width="300" height="64.9" fill="#1f63b0"/><path d="M0,0 H125.0 L186.0,64.9 H0 Z" fill="#1f55a8"/></g><rect width="52.2" height="64.9" fill="#244aa1"/><rect x="13.95" y="18.20" width="30.05" height="30.7" fill="#fff"/><rect x="18.10" y="22.40" width="8.4" height="22.3" fill="#243f93"/><path d="M30.10,22.40 H33.20 A5.45,5.45 0 0 1 33.20,33.30 H30.10 Z" fill="#243f93"/><path d="M30.10,34.40 V44.70 H41.20 Z" fill="#243f93"/></g></svg><div class="t" style="left:125.81px;top:885.66px;font-size:11.74px;color:#fff;font-weight:bold;transform:scaleX(1.0795)">REALTORS</div><div class="t" style="left:194.40px;top:885.35px;font-size:7.97px;color:#fff;font-weight:bold;transform:scaleX(0.8029)">®</div><div class="t" style="left:126.60px;top:898.19px;font-size:10.29px;color:#eef4fb;transform:scaleX(1.0297)">Association of</div><div class="t" style="left:125.75px;top:908.32px;font-size:10.72px;color:#eef4fb;transform:scaleX(1.0095)">Edmonton</div><div class="t" style="left:321.07px;top:890.38px;font-size:23.77px;color:#d6ebf7;transform:scaleX(0.8792)">MAY 2025 RESIDENTIAL STATISTICS - CITY OF EDMONTON</div>
<div class="t" style="left:212.41px;top:946.75px;font-size:15.65px;color:#9e1f35;font-weight:bold;transform:scaleX(1.0111)">MLS</div>
<div class="t" style="left:246.36px;top:946.64px;font-size:8.70px;color:#9e1f35;font-weight:bold;transform:scaleX(1.0400)">®</div>
<div class="t" style="left:256.56px;top:946.75px;font-size:15.65px;color:#9e1f35;font-weight:bold;transform:scaleX(0.9573)">HOME PRICE INDEX</div>
<div class="t" style="left:117.50px;top:978.91px;font-size:35.07px;color:#595959;transform:scaleX(0.8007)">$427K</div>
<div class="t" style="left:116.67px;top:1016.46px;font-size:11.74px;color:#262626;transform:scaleX(0.9058)">Benchmark Price</div>
<svg class="a" style="left:0;top:0;overflow:visible" width="1" height="1"><path d="M252.2,991.6 L256.7,998.7 L253.6,997.3 L253.6,1008.6 L250.9,1008.6 L250.9,997.3 L247.8,998.7 Z" fill="#2ea453"/></svg>
<div class="t" style="left:277.17px;top:981.36px;font-size:32.17px;color:#595959;transform:scaleX(0.8239)">0.1%</div>
<div class="t" style="left:259.79px;top:1016.46px;font-size:11.74px;color:#262626;transform:scaleX(0.9869)">Month-over-Month</div>
<svg class="a" style="left:0;top:0;overflow:visible" width="1" height="1"><path d="M404.6,991.6 L409.6,999.7 L406.1,998.1 L406.1,1008.6 L403.0,1008.6 L403.0,998.1 L399.5,999.7 Z" fill="#2ea453"/></svg>
<div class="t" style="left:426.99px;top:981.36px;font-size:32.17px;color:#595959;transform:scaleX(0.8099)">8.9%</div>
<div class="t" style="left:423.54px;top:1016.46px;font-size:11.74px;color:#262626;transform:scaleX(0.8683)">Year-over-Year</div>
<div class="a" style="left:97.3px;top:1051px;width:411.4px;height:1.3px;background:#cf8b94"></div>
<div class="t" style="left:124.40px;top:1067.07px;font-size:26.38px;color:#2b79b7;transform:scaleX(0.8357)">$431K</div>
<div class="t" style="left:109.40px;top:1098.01px;font-size:11.45px;color:#262626;transform:scaleX(0.9034)">Average Sales Price</div>
<svg class="a" style="left:0;top:0;overflow:visible" width="1" height="1"><path d="M252.8,1088.2 L257.9,1080.1 L254.4,1081.7 L254.4,1071.2 L251.3,1071.2 L251.3,1081.7 L247.8,1080.1 Z" fill="#b3202a"/></svg>
<div class="t" style="left:277.31px;top:1069.53px;font-size:23.48px;color:#2b79b7;transform:scaleX(0.9466)">-3.2%</div>
<div class="t" style="left:258.09px;top:1098.01px;font-size:11.45px;color:#262626;transform:scaleX(1.0217)">Month-over-Month</div>
<svg class="a" style="left:0;top:0;overflow:visible" width="1" height="1"><path d="M404.6,1072.0 L409.6,1080.1 L406.1,1078.5 L406.1,1089.4 L403.0,1089.4 L403.0,1078.5 L399.5,1080.1 Z" fill="#2ea453"/></svg>
<div class="t" style="left:433.16px;top:1068.91px;font-size:24.20px;color:#2b79b7;transform:scaleX(0.8456)">3.4%</div>
<div class="t" style="left:422.34px;top:1098.01px;font-size:11.45px;color:#262626;transform:scaleX(0.9061)">Year-over-Year</div>
<div class="t" style="left:124.40px;top:1149.26px;font-size:25.80px;color:#2b79b7;transform:scaleX(0.8544)">$416K</div>
<div class="t" style="left:110.16px;top:1178.91px;font-size:11.45px;color:#262626;transform:scaleX(0.9406)">Median Sales Price</div>
<svg class="a" style="left:0;top:0;overflow:visible" width="1" height="1"><path d="M252.8,1169.9 L257.9,1161.8 L254.4,1163.4 L254.4,1153.3 L251.3,1153.3 L251.3,1163.4 L247.8,1161.8 Z" fill="#b3202a"/></svg>
<div class="t" style="left:279.31px;top:1151.72px;font-size:22.90px;color:#2b79b7;transform:scaleX(0.9586)">-1.0%</div>
<div class="t" style="left:258.09px;top:1178.91px;font-size:11.45px;color:#262626;transform:scaleX(1.0217)">Month-over-Month</div>
<svg class="a" style="left:0;top:0;overflow:visible" width="1" height="1"><path d="M404.6,1154.1 L409.6,1162.2 L406.1,1160.6 L406.1,1171.1 L403.0,1171.1 L403.0,1160.6 L399.5,1162.2 Z" fill="#2ea453"/></svg>
<div class="t" style="left:434.06px;top:1151.10px;font-size:23.62px;color:#2b79b7;transform:scaleX(0.8721)">5.2%</div>
<div class="t" style="left:422.34px;top:1178.91px;font-size:11.45px;color:#262626;transform:scaleX(0.9061)">Year-over-Year</div>
<div class="a" style="left:549px;top:954.5px;width:412px;height:230.3px;background:#fff;box-shadow:3px 4px 5px rgba(0,0,0,0.28)"></div>
<div class="t" style="left:552.07px;top:958.49px;font-size:14.78px;color:#666;transform:scaleX(0.8960)">BENCHMARK PRICE TREND</div>
<div class="t" style="left:929.80px;top:979.97px;font-size:10.43px;color:#707070;transform:scaleX(0.9447)">$430K</div>
<div class="t" style="left:929.80px;top:1021.77px;font-size:10.43px;color:#707070;transform:scaleX(0.9447)">$420K</div>
<div class="t" style="left:929.80px;top:1063.37px;font-size:10.43px;color:#707070;transform:scaleX(0.9447)">$410K</div>
<div class="t" style="left:929.80px;top:1105.37px;font-size:10.43px;color:#707070;transform:scaleX(0.9447)">$400K</div>
<div class="t" style="left:929.80px;top:1146.57px;font-size:10.43px;color:#707070;transform:scaleX(0.9447)">$390K</div>
<svg class="a" style="left:0;top:0;overflow:visible" width="1" height="1"><polyline points="576.6,1142.4 604.8,1111.9 632.6,1123.2 660.2,1122.1 689.5,1130.4 717.0,1143.5 744.8,1149.2 773.0,1143.1 800.6,1066.3 827.7,1034.7 857.1,993.4 885.3,997.0 914.0,995.8" fill="none" stroke="#7e1f33" stroke-width="2.8" stroke-linejoin="round" stroke-linecap="round"/></svg>
<div class="t" style="left:566.48px;top:1158.89px;font-size:10.29px;color:#777">May</div>
<div class="t" style="left:564.88px;top:1170.17px;font-size:10.43px;color:#777">2024</div>
<div class="t" style="left:596.63px;top:1158.89px;font-size:10.29px;color:#777">Jun</div>
<div class="t" style="left:593.00px;top:1170.17px;font-size:10.43px;color:#777">2024</div>
<div class="t" style="left:626.52px;top:1158.89px;font-size:10.29px;color:#777">Jul</div>
<div class="t" style="left:621.12px;top:1170.17px;font-size:10.43px;color:#777">2024</div>
<div class="t" style="left:652.09px;top:1158.89px;font-size:10.29px;color:#777">Aug</div>
<div class="t" style="left:649.24px;top:1170.17px;font-size:10.43px;color:#777">2024</div>
<div class="t" style="left:679.97px;top:1158.89px;font-size:10.29px;color:#777">Sep</div>
<div class="t" style="left:677.36px;top:1170.17px;font-size:10.43px;color:#777">2024</div>
<div class="t" style="left:708.94px;top:1158.89px;font-size:10.29px;color:#777">Oct</div>
<div class="t" style="left:705.48px;top:1170.17px;font-size:10.43px;color:#777">2024</div>
<div class="t" style="left:735.77px;top:1158.89px;font-size:10.29px;color:#777">Nov</div>
<div class="t" style="left:733.60px;top:1170.17px;font-size:10.43px;color:#777">2024</div>
<div class="t" style="left:763.97px;top:1158.89px;font-size:10.29px;color:#777">Dec</div>
<div class="t" style="left:761.72px;top:1170.17px;font-size:10.43px;color:#777">2024</div>
<div class="t" style="left:793.47px;top:1158.89px;font-size:10.29px;color:#777">Jan</div>
<div class="t" style="left:789.92px;top:1170.17px;font-size:10.43px;color:#777">2025</div>
<div class="t" style="left:820.62px;top:1158.89px;font-size:10.29px;color:#777">Feb</div>
<div class="t" style="left:818.04px;top:1170.17px;font-size:10.43px;color:#777">2025</div>
<div class="t" style="left:848.56px;top:1158.89px;font-size:10.29px;color:#777">Mar</div>
<div class="t" style="left:846.16px;top:1170.17px;font-size:10.43px;color:#777">2025</div>
<div class="t" style="left:877.94px;top:1158.89px;font-size:10.29px;color:#777">Apr</div>
<div class="t" style="left:874.28px;top:1170.17px;font-size:10.43px;color:#777">2025</div>
<div class="t" style="left:903.92px;top:1158.89px;font-size:10.29px;color:#777">May</div>
<div class="t" style="left:902.40px;top:1170.17px;font-size:10.43px;color:#777">2025</div>
<svg class="a" style="left:0;top:0" width="1063" height="1420">
<g transform="translate(90,1222)" fill="none" stroke="#9b1c31" stroke-width="2.6" stroke-linecap="round" stroke-linejoin="round"><path d="M8,44.7 L47.5,10.3 L88,44.7 Z M14.6,45.2 V96.9 M80.9,45.2 V71.5 M80.9,78 V96.9 M23.5,96.9 V55 H46.1 V96.9 M23.5,62.1 H46.1 M53.6,55 H72.4 V88.4 H53.6 Z M53.6,60.2 H72.4 M63,60.2 V88.4 M53.6,75.3 H72.4 M65.9,22 V12.2 H80.4 V34 M61.6,12.2 V7.1 H70 M75,7.1 H83.7 V12.2 M65.9,17.8 H80.4 M65.9,23.5 H80.4 M38,75.8 L41,77"/><rect x="11.3" y="96.9" width="73.8" height="7.1" rx="2"/><circle cx="48" cy="30.6" r="7.8"/><path d="M40.5,30.6 H55.5 M48,23 V38"/></g>
<g transform="translate(385,1222)" fill="none" stroke="#9b1c31" stroke-width="2.6" stroke-linecap="round" stroke-linejoin="round"><path d="M7.5,15 V103.5 M44.2,15 V103.5 M54.6,15 V103.5 M91.3,15 V56.5 M91.3,62.5 V103.5 M4.7,103.5 H94.1 M44.2,72.4 H54.6 M44.2,79 H54.6 M19.8,103.5 V94.1 H32.5 V103.5 M24,96 V103.5 M28.3,96 V103.5 M66.8,103.5 V94.1 H79.5 V103.5 M71,96 V103.5 M75.3,96 V103.5"/><rect x="4.2" y="8.5" width="42.8" height="6.5" rx="1.5"/><path d="M51.7,15 V9.5 A1,1 0 0 1 52.7,8.5 H70.5 M75.3,8.5 H93.1 A1,1 0 0 1 94.1,9.5 V15 H51.7"/></g>
<g transform="translate(385,1222)" fill="#9b1c31"><ellipse cx="14.1" cy="23.5" rx="1.75" ry="2.2"/><ellipse cx="19.8" cy="23.5" rx="1.75" ry="2.2"/><ellipse cx="25.4" cy="23.5" rx="1.75" ry="2.2"/><ellipse cx="31.5" cy="23.5" rx="1.75" ry="2.2"/><ellipse cx="37.2" cy="23.5" rx="1.75" ry="2.2"/><ellipse cx="14.1" cy="32.5" rx="1.75" ry="2.2"/><ellipse cx="19.8" cy="32.5" rx="1.75" ry="2.2"/><ellipse cx="25.4" cy="32.5" rx="1.75" ry="2.2"/><ellipse cx="31.5" cy="32.5" rx="1.75" ry="2.2"/><ellipse cx="37.2" cy="32.5" rx="1.75" ry="2.2"/><ellipse cx="14.1" cy="41.4" rx="1.75" ry="2.2"/><ellipse cx="19.8" cy="41.4" rx="1.75" ry="2.2"/><ellipse cx="25.4" cy="41.4" rx="1.75" ry="2.2"/><ellipse cx="31.5" cy="41.4" rx="1.75" ry="2.2"/><ellipse cx="37.2" cy="41.4" rx="1.75" ry="2.2"/><ellipse cx="14.1" cy="50.3" rx="1.75" ry="2.2"/><ellipse cx="19.8" cy="50.3" rx="1.75" ry="2.2"/><ellipse cx="25.4" cy="50.3" rx="1.75" ry="2.2"/><ellipse cx="31.5" cy="50.3" rx="1.75" ry="2.2"/><ellipse cx="37.2" cy="50.3" rx="1.75" ry="2.2"/><ellipse cx="14.1" cy="59.3" rx="1.75" ry="2.2"/><ellipse cx="19.8" cy="59.3" rx="1.75" ry="2.2"/><ellipse cx="25.4" cy="59.3" rx="1.75" ry="2.2"/><ellipse cx="31.5" cy="59.3" rx="1.75" ry="2.2"/><ellipse cx="37.2" cy="59.3" rx="1.75" ry="2.2"/><ellipse cx="14.1" cy="68.2" rx="1.75" ry="2.2"/><ellipse cx="19.8" cy="68.2" rx="1.75" ry="2.2"/><ellipse cx="25.4" cy="68.2" rx="1.75" ry="2.2"/><ellipse cx="31.5" cy="68.2" rx="1.75" ry="2.2"/><ellipse cx="37.2" cy="68.2" rx="1.75" ry="2.2"/><ellipse cx="14.1" cy="77.1" rx="1.75" ry="2.2"/><ellipse cx="19.8" cy="77.1" rx="1.75" ry="2.2"/><ellipse cx="25.4" cy="77.1" rx="1.75" ry="2.2"/><ellipse cx="31.5" cy="77.1" rx="1.75" ry="2.2"/><ellipse cx="37.2" cy="77.1" rx="1.75" ry="2.2"/><ellipse cx="14.1" cy="86.1" rx="1.75" ry="2.2"/><ellipse cx="19.8" cy="86.1" rx="1.75" ry="2.2"/><ellipse cx="25.4" cy="86.1" rx="1.75" ry="2.2"/><ellipse cx="31.5" cy="86.1" rx="1.75" ry="2.2"/><ellipse cx="37.2" cy="86.1" rx="1.75" ry="2.2"/><ellipse cx="14.1" cy="95.0" rx="1.75" ry="2.2"/><ellipse cx="37.2" cy="95.0" rx="1.75" ry="2.2"/><ellipse cx="61.1" cy="23.5" rx="1.75" ry="2.2"/><ellipse cx="66.8" cy="23.5" rx="1.75" ry="2.2"/><ellipse cx="72.4" cy="23.5" rx="1.75" ry="2.2"/><ellipse cx="78.5" cy="23.5" rx="1.75" ry="2.2"/><ellipse cx="84.2" cy="23.5" rx="1.75" ry="2.2"/><ellipse cx="61.1" cy="32.5" rx="1.75" ry="2.2"/><ellipse cx="66.8" cy="32.5" rx="1.75" ry="2.2"/><ellipse cx="72.4" cy="32.5" rx="1.75" ry="2.2"/><ellipse cx="78.5" cy="32.5" rx="1.75" ry="2.2"/><ellipse cx="84.2" cy="32.5" rx="1.75" ry="2.2"/><ellipse cx="61.1" cy="41.4" rx="1.75" ry="2.2"/><ellipse cx="66.8" cy="41.4" rx="1.75" ry="2.2"/><ellipse cx="72.4" cy="41.4" rx="1.75" ry="2.2"/><ellipse cx="78.5" cy="41.4" rx="1.75" ry="2.2"/><ellipse cx="84.2" cy="41.4" rx="1.75" ry="2.2"/><ellipse cx="61.1" cy="50.3" rx="1.75" ry="2.2"/><ellipse cx="66.8" cy="50.3" rx="1.75" ry="2.2"/><ellipse cx="72.4" cy="50.3" rx="1.75" ry="2.2"/><ellipse cx="78.5" cy="50.3" rx="1.75" ry="2.2"/><ellipse cx="84.2" cy="50.3" rx="1.75" ry="2.2"/><ellipse cx="61.1" cy="59.3" rx="1.75" ry="2.2"/><ellipse cx="66.8" cy="59.3" rx="1.75" ry="2.2"/><ellipse cx="72.4" cy="59.3" rx="1.75" ry="2.2"/><ellipse cx="78.5" cy="59.3" rx="1.75" ry="2.2"/><ellipse cx="84.2" cy="59.3" rx="1.75" ry="2.2"/><ellipse cx="61.1" cy="68.2" rx="1.75" ry="2.2"/><ellipse cx="66.8" cy="68.2" rx="1.75" ry="2.2"/><ellipse cx="72.4" cy="68.2" rx="1.75" ry="2.2"/><ellipse cx="78.5" cy="68.2" rx="1.75" ry="2.2"/><ellipse cx="84.2" cy="68.2" rx="1.75" ry="2.2"/><ellipse cx="61.1" cy="77.1" rx="1.75" ry="2.2"/><ellipse cx="66.8" cy="77.1" rx="1.75" ry="2.2"/><ellipse cx="72.4" cy="77.1" rx="1.75" ry="2.2"/><ellipse cx="78.5" cy="77.1" rx="1.75" ry="2.2"/><ellipse cx="84.2" cy="77.1" rx="1.75" ry="2.2"/><ellipse cx="61.1" cy="86.1" rx="1.75" ry="2.2"/><ellipse cx="66.8" cy="86.1" rx="1.75" ry="2.2"/><ellipse cx="72.4" cy="86.1" rx="1.75" ry="2.2"/><ellipse cx="78.5" cy="86.1" rx="1.75" ry="2.2"/><ellipse cx="84.2" cy="86.1" rx="1.75" ry="2.2"/><ellipse cx="61.1" cy="95.0" rx="1.75" ry="2.2"/><ellipse cx="84.2" cy="95.0" rx="1.75" ry="2.2"/><ellipse cx="49.4" cy="86.1" rx="1.75" ry="2.2"/><ellipse cx="49.4" cy="95" rx="1.75" ry="2.2"/></g>
<g transform="translate(670,1222)" fill="none" stroke="#9b1c31" stroke-width="2.5" stroke-linecap="round" stroke-linejoin="round"><path d="M6.1,101.5 H126 M8.6,101.5 V31.8 L28.1,10.4 L47.1,30.6 L66.7,10.4 L73.5,17.8 M78.5,23.2 L85.6,30.6 L105.2,10.4 L124.1,31.8 V60.5 M124.1,67.3 V101.5 M47.1,30.6 V101.5 M85.6,30.6 V101.5"/><rect x="18.4" y="42.8" width="18.9" height="22.6" rx="3" fill="#9b1c31" stroke="none"/><rect x="22.0" y="47.1" width="4.2" height="5.2" fill="#fff" stroke="none"/><rect x="30.0" y="47.1" width="4.2" height="5.2" fill="#fff" stroke="none"/><rect x="22.0" y="55.6" width="4.2" height="5.2" fill="#fff" stroke="none"/><rect x="30.0" y="55.6" width="4.2" height="5.2" fill="#fff" stroke="none"/><path d="M19.6,101.5 V73.5 A2,2 0 0 1 21.6,71.5 H34.1 A2,2 0 0 1 36.1,73.5 V101.5 M19.6,78.3 H36.1 M28.6,89.3 H30.1"/><rect x="56.9" y="42.8" width="18.9" height="22.6" rx="3" fill="#9b1c31" stroke="none"/><rect x="60.5" y="47.1" width="4.2" height="5.2" fill="#fff" stroke="none"/><rect x="68.5" y="47.1" width="4.2" height="5.2" fill="#fff" stroke="none"/><rect x="60.5" y="55.6" width="4.2" height="5.2" fill="#fff" stroke="none"/><rect x="68.5" y="55.6" width="4.2" height="5.2" fill="#fff" stroke="none"/><path d="M58.1,101.5 V73.5 A2,2 0 0 1 60.1,71.5 H72.6 A2,2 0 0 1 74.6,73.5 V101.5 M58.1,78.3 H74.6 M67.1,89.3 H68.6"/><rect x="95.4" y="42.8" width="18.9" height="22.6" rx="3" fill="#9b1c31" stroke="none"/><rect x="99.0" y="47.1" width="4.2" height="5.2" fill="#fff" stroke="none"/><rect x="107.0" y="47.1" width="4.2" height="5.2" fill="#fff" stroke="none"/><rect x="99.0" y="55.6" width="4.2" height="5.2" fill="#fff" stroke="none"/><rect x="107.0" y="55.6" width="4.2" height="5.2" fill="#fff" stroke="none"/><path d="M96.6,101.5 V73.5 A2,2 0 0 1 98.6,71.5 H111.1 A2,2 0 0 1 113.1,73.5 V101.5 M96.6,78.3 H113.1 M105.6,89.3 H107.1"/></g>
</svg>
<div class="t" style="left:90.50px;top:1334.18px;font-size:14.20px;color:#111;font-weight:bold;transform:scaleX(0.8795)">SINGLE FAMILY</div>
<div class="t" style="left:393.30px;top:1334.18px;font-size:14.20px;color:#111;font-weight:bold;transform:scaleX(0.9128)">APARTMENT</div>
<div class="t" style="left:694.00px;top:1334.75px;font-size:14.35px;color:#111;font-weight:bold;transform:scaleX(0.9022)">TOWNHOUSE</div>
<div class="t" style="left:192.30px;top:1244.01px;font-size:27.39px;color:#5a5a5a;transform:scaleX(0.9086)">$523K</div>
<div class="t" style="left:276.16px;top:1254.66px;font-size:11.74px;color:#262626;transform:scaleX(0.9115)">Benchmark Price</div>
<svg class="a" style="left:0;top:0;overflow:visible" width="1" height="1"><path d="M214.4,1280.5 L218.3,1286.8 L215.5,1285.6 L215.5,1292.6 L213.2,1292.6 L213.2,1285.6 L210.4,1286.8 Z" fill="#2ea453"/></svg>
<div class="t" style="left:233.37px;top:1280.99px;font-size:14.78px;color:#5a5a5a;transform:scaleX(0.9210)">0.1%</div>
<div class="t" style="left:276.20px;top:1284.31px;font-size:11.45px;color:#262626;transform:scaleX(0.8902)">Month-over-Month</div>
<svg class="a" style="left:0;top:0;overflow:visible" width="1" height="1"><path d="M214.4,1311.0 L218.3,1317.3 L215.5,1316.1 L215.5,1323.7 L213.2,1323.7 L213.2,1316.1 L210.4,1317.3 Z" fill="#2ea453"/></svg>
<div class="t" style="left:229.35px;top:1311.55px;font-size:14.35px;color:#5a5a5a;transform:scaleX(0.9528)">10.5%</div>
<div class="t" style="left:276.86px;top:1314.14px;font-size:11.88px;color:#262626;transform:scaleX(0.7588)">Year-over-Year</div>
<div class="t" style="left:492.30px;top:1241.83px;font-size:26.67px;color:#5a5a5a;transform:scaleX(0.9073)">$217K</div>
<div class="t" style="left:576.16px;top:1255.14px;font-size:11.88px;color:#262626;transform:scaleX(0.9004)">Benchmark Price</div>
<svg class="a" style="left:0;top:0;overflow:visible" width="1" height="1"><path d="M512.0,1282.2 L515.6,1288.0 L513.1,1286.8 L513.1,1294.6 L510.9,1294.6 L510.9,1286.8 L508.4,1288.0 Z" fill="#2ea453"/></svg>
<div class="t" style="left:528.78px;top:1280.87px;font-size:15.51px;color:#5a5a5a;transform:scaleX(0.8492)">1.3%</div>
<div class="t" style="left:576.20px;top:1284.79px;font-size:11.59px;color:#262626;transform:scaleX(0.8791)">Month-over-Month</div>
<svg class="a" style="left:0;top:0;overflow:visible" width="1" height="1"><path d="M512.0,1312.4 L515.6,1318.2 L513.1,1317.0 L513.1,1325.0 L510.9,1325.0 L510.9,1317.0 L508.4,1318.2 Z" fill="#2ea453"/></svg>
<div class="t" style="left:525.38px;top:1311.37px;font-size:15.51px;color:#5a5a5a;transform:scaleX(0.8416)">14.4%</div>
<div class="t" style="left:576.86px;top:1314.62px;font-size:12.03px;color:#262626;transform:scaleX(0.7496)">Year-over-Year</div>
<div class="t" style="left:805.50px;top:1239.29px;font-size:27.54px;color:#5a5a5a;transform:scaleX(0.8799)">$299K</div>
<div class="t" style="left:890.46px;top:1252.37px;font-size:12.32px;color:#262626;transform:scaleX(0.8686)">Benchmark Price</div>
<svg class="a" style="left:0;top:0;overflow:visible" width="1" height="1"><path d="M822.5,1280.6 L826.0,1286.2 L823.5,1285.1 L823.5,1292.7 L821.5,1292.7 L821.5,1285.1 L819.0,1286.2 Z" fill="#2ea453"/></svg>
<div class="t" style="left:842.60px;top:1279.33px;font-size:15.80px;color:#5a5a5a;transform:scaleX(0.8190)">0.0%</div>
<div class="t" style="left:890.50px;top:1282.02px;font-size:12.03px;color:#262626;transform:scaleX(0.8473)">Month-over-Month</div>
<svg class="a" style="left:0;top:0;overflow:visible" width="1" height="1"><path d="M822.5,1310.7 L826.0,1316.3 L823.5,1315.2 L823.5,1322.8 L821.5,1322.8 L821.5,1315.2 L819.0,1316.3 Z" fill="#2ea453"/></svg>
<div class="t" style="left:839.18px;top:1309.55px;font-size:15.65px;color:#5a5a5a;transform:scaleX(0.8431)">17.6%</div>
<div class="t" style="left:891.16px;top:1311.85px;font-size:12.46px;color:#262626;transform:scaleX(0.7235)">Year-over-Year</div>
<div class="t" style="left:82.93px;top:1371.87px;font-size:12.32px;color:#333;font-style:italic;transform:scaleX(0.8701)">For more information about the Home Price Index (HPI) and benchmark price visit</div>
<div class="t" style="left:475.46px;top:1371.87px;font-size:12.32px;color:#1f3d8a;font-style:italic;transform:scaleX(0.9283);text-decoration:underline">www.crea.ca</div>
<div class="t" style="left:865.92px;top:1365.02px;font-size:7.54px;color:#222;font-weight:bold;transform:scaleX(1.0172)">MLS</div>
<div class="t" style="left:882.50px;top:1364.82px;font-size:4.35px;color:#222;transform:scaleX(0.8769)">®</div>
<div class="t" style="left:865.39px;top:1373.08px;font-size:10.00px;color:#222;transform:scaleX(1.0890);-webkit-text-stroke:0.30px #222">Home Price Index</div>
<svg class="a" style="left:0;top:0;overflow:visible" width="1" height="1"><path d="M953.6,1372.2 L957.6,1369.6 L965.4,1376.8 L959.8,1376.8 Z" fill="#3a5fb0"/><path d="M965.4,1376.8 L957.6,1384.5 L953.6,1381 L959.8,1376.8 Z" fill="#d9263a"/></svg>
<div class="t" style="left:367.81px;top:1437.46px;font-size:25.51px;color:#fff;font-weight:bold;transform:scaleX(0.9554);-webkit-text-stroke:0.90px #fff">2PERCENT</div><div class="t" style="left:498.76px;top:1436.80px;font-size:26.81px;color:#fff;transform:scaleX(0.9757)">REALTY</div><div class="t" style="left:598.71px;top:1437.46px;font-size:25.51px;color:#fff;font-weight:bold;transform:scaleX(0.9232);-webkit-text-stroke:0.90px #fff">PRO</div><div class="t" style="left:649.69px;top:1436.80px;font-size:26.81px;color:#fff;transform:scaleX(0.9595)">.CA</div>
</body></html>
